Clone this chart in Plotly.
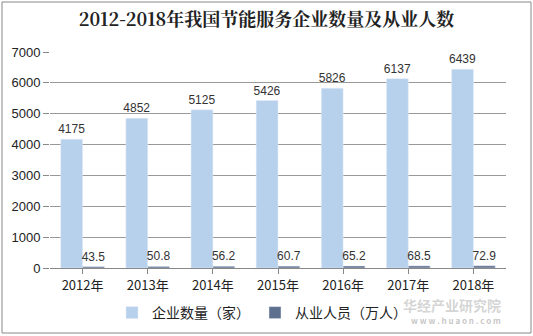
import plotly.graph_objects as go

years = ["2012年", "2013年", "2014年", "2015年", "2016年", "2017年", "2018年"]
companies = [4175, 4852, 5125, 5426, 5826, 6137, 6439]
employees = [43.5, 50.8, 56.2, 60.7, 65.2, 68.5, 72.9]
y_ticks = [0, 1000, 2000, 3000, 4000, 5000, 6000, 7000]

fig = go.Figure()
fig.add_trace(go.Bar(
    x=years, y=companies, name="企业数量（家）",
    marker_color="#B7D0EC",
    text=[str(v) for v in companies], textposition="outside", constraintext="none",
    textfont=dict(size=12, color="#333333", family="Liberation Sans, Arial, sans-serif"),
    cliponaxis=False,
))
fig.add_trace(go.Bar(
    x=years, y=employees, name="从业人员（万人）",
    marker_color="#5F6F8E",
    text=[str(v) for v in employees], textposition="outside", constraintext="none",
    textfont=dict(size=12, color="#333333", family="Liberation Sans, Arial, sans-serif"),
    cliponaxis=False,
))

W, H = 533, 336
L, R, T, B = 50, 27, 52, 68
pw, ph = W - L - R, H - T - B

fig.update_layout(
    width=W, height=H,
    margin=dict(l=L, r=R, t=T, b=B, autoexpand=False),
    paper_bgcolor="white", plot_bgcolor="white",
    barmode="group", bargap=0.33, bargroupgap=0,
    title=dict(text="<b>2012-2018年我国节能服务企业数量及从业人数</b>",
               x=0.5, xanchor="center", yref="container", y=1 - 20 / H, yanchor="middle",
               font=dict(family="Noto Serif CJK SC, Noto Sans CJK SC, serif", size=18, color="#222222")),
    font=dict(family="Noto Sans CJK SC, Liberation Sans, sans-serif", size=12, color="#222222"),
    showlegend=True,
    legend=dict(orientation="h", xref="container", x=262 / W, xanchor="center",
                yref="container", y=1 - 313 / H, yanchor="middle",
                font=dict(size=14, color="#222222"), itemwidth=30, tracegroupgap=0),
    shapes=[dict(type="rect", xref="paper", yref="paper",
                 x0=(2 - L) / pw, x1=(531 - L) / pw,
                 y0=-(333 - (H - B)) / ph, y1=((H - B) - 2) / ph,
                 line=dict(color="#888888", width=1))],
)
fig.update_xaxes(showline=True, linecolor="#888888", ticks="outside", tickcolor="#888888",
                 ticklen=5, tickfont=dict(size=13))
fig.update_yaxes(range=[0, 7000], tickvals=y_ticks, showgrid=True, gridcolor="#999999",
                 gridwidth=1, zeroline=False, ticks="outside", tickcolor="#888888", ticklen=6,
                 tickfont=dict(size=13, family="Liberation Sans, Arial, sans-serif"))

fig.add_annotation(text="<b>华经产业研究院</b>", xref="paper", yref="paper", x=(503 - L) / pw,
                   y=-(305 - (H - B)) / ph,
                   xanchor="right", yanchor="middle", showarrow=False,
                   font=dict(size=14, color="rgba(160,160,160,0.45)"))
fig.add_annotation(text="<b>w w w . h u a o n . c o m</b>", xref="paper", yref="paper", x=(503 - L) / pw,
                   y=-(320 - (H - B)) / ph,
                   xanchor="right", yanchor="middle", showarrow=False,
                   font=dict(size=8, color="rgba(160,160,160,0.6)"))

fig.write_html("out.html")
